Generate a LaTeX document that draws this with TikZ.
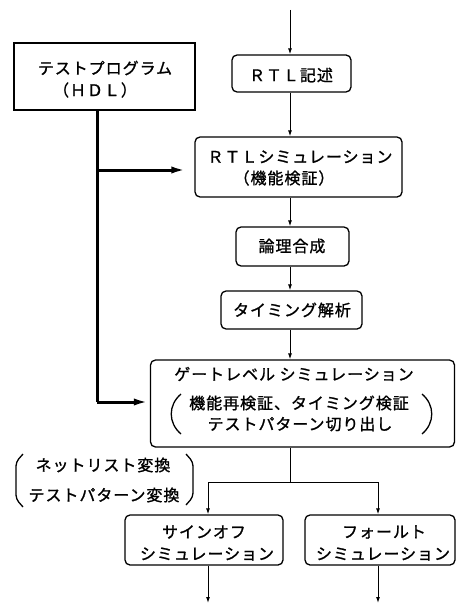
\documentclass[tikz,border=0pt]{standalone}
\usepackage{fontspec}
\usetikzlibrary{arrows.meta}
\newfontfamily\jp[LetterSpace=6,FakeBold=1.2]{Noto Sans CJK JP}
\begin{document}
\begin{tikzpicture}[x=1pt,y=-1pt,
  box/.style={draw,line width=1.3pt,rounded corners=5pt,inner sep=0pt,align=center},
  sqbox/.style={draw,line width=1.3pt,inner sep=0pt,align=center},
  lbl/.style={inner sep=0pt,font=\jp\fontsize{16}{20}\selectfont},
  thin/.style={line width=1pt},
  arr/.style={line width=1pt,-{Latex[length=6pt,width=4pt]}},
  fat/.style={line width=3pt},
  fatarr/.style={line width=3pt,-{Latex[length=16pt,width=7pt]}},
  brk/.style={line width=1.3pt}]
\useasboundingbox (0,0) rectangle (456,604);
% boxes
\node[sqbox,minimum width=181pt,minimum height=67pt] (test) at (104.5,76.5) {};
\node[lbl] (testa) at (105,68) {テストプログラム};
\node[lbl] (testb) at (95,90) {（ＨＤＬ）};
\node[box,minimum width=119pt,minimum height=37pt] (rtl) at (291.5,73.5) {};
\node[lbl] (rtlt) at (291,75) {ＲＴＬ記述};
\node[box,minimum width=207pt,minimum height=60pt] (rtlsim) at (298.5,167) {};
\node[lbl] (rtlsima) at (300,157) {ＲＴＬシミュレーション};
\node[lbl] (rtlsimb) at (284,178) {（機能検証）};
\node[box,minimum width=113pt,minimum height=39pt] (ronri) at (292.5,246.5) {};
\node[lbl] (ronrit) at (292,246) {論理合成};
\node[box,minimum width=141pt,minimum height=38pt] (timing) at (291.5,310) {};
\node[lbl] (timingt) at (292,310) {タイミング解析};
\node[box,minimum width=304pt,minimum height=87pt] (gate) at (302.5,403.5) {};
\node[lbl] (gatea) at (294,374) {ゲートレベル シミュレーション};
\node[lbl] (gateb) at (299,403) {機能再検証、タイミング検証};
\node[lbl] (gatec) at (300,424) {テストパターン切り出し};
\draw[brk] (181,394) .. controls (168,405) and (168,423) .. (181,434);
\draw[brk] (422,394) .. controls (435,405) and (435,423) .. (422,434);
\node[box,minimum width=158pt,minimum height=50pt] (signoff) at (204,540) {};
\node[lbl] (signoffa) at (204,532) {サインオフ};
\node[lbl] (signoffb) at (207,554) {シミュレーション};
\node[box,minimum width=150pt,minimum height=50pt] (fault) at (380,540) {};
\node[lbl] (faulta) at (384,532) {フォールト};
\node[lbl] (faultb) at (383,554) {シミュレーション};
% annotation
\node[lbl] (anna) at (103,465) {ネットリスト変換};
\node[lbl] (annb) at (104,495) {テストパターン変換};
\draw[brk,rounded corners=4pt] (23,454) -- (16,462) -- (16,499) -- (23,507);
\draw[brk,rounded corners=4pt] (186,454) -- (193,462) -- (193,497) -- (186,505);
% spine
\coordinate (top) at (290,10);
\coordinate (split) at (290,482);
\coordinate (sa) at (208,482);
\coordinate (fa) at (378,482);
\coordinate (sb) at (208,603);
\coordinate (fb) at (378,603);
\draw[arr] (top) -- (top |- rtl.north);
\draw[arr] (top |- rtl.south) -- (top |- rtlsim.north);
\draw[arr] (top |- rtlsim.south) -- (top |- ronri.north);
\draw[arr] (top |- ronri.south) -- (top |- timing.north);
\draw[arr] (top |- timing.south) -- (top |- gate.north);
\draw[thin] (top |- gate.south) -- (split);
\draw[thin] (sa) -- (fa);
\draw[arr] (sa) -- (sa |- signoff.north);
\draw[arr] (fa) -- (fa |- fault.north);
\draw[arr] (sa |- signoff.south) -- (sb);
\draw[arr] (fa |- fault.south) -- (fb);
% thick test lines
\coordinate (tb) at (97,110);
\coordinate (branch) at (97,170);
\coordinate (corner) at (97,402);
\draw[fat] (tb) -- (corner);
\draw[fatarr] (corner) -- (corner -| gate.west);
\draw[fatarr] (branch) -- ([xshift=-7pt]branch -| rtlsim.west);
\end{tikzpicture}
\end{document}
